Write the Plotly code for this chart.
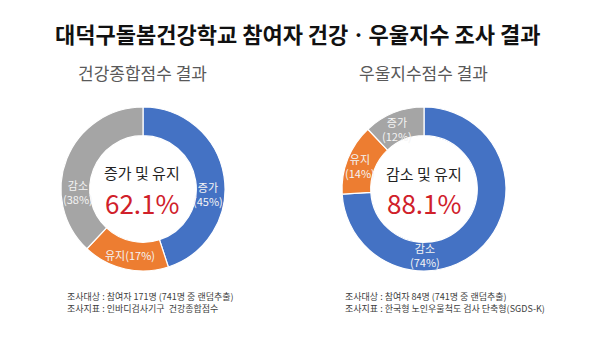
import plotly.graph_objects as go

# Survey results: health composite score (left) and depression score (right)
health_labels = ["증가", "유지", "감소"]
health_values = [45, 17, 38]
health_center_label = "증가 및 유지"
health_center_value = "62.1%"

depress_labels = ["감소", "유지", "증가"]
depress_values = [74, 14, 12]
depress_center_label = "감소 및 유지"
depress_center_value = "88.1%"

title = "대덕구돌봄건강학교 참여자 건강ㆍ우울지수 조사 결과"
sub_left = "건강종합점수 결과"
sub_right = "우울지수점수 결과"
note_left = ["조사대상 : 참여자 171명 (741명 중 랜덤추출)",
             "조사지표 : 인바디검사기구  건강종합점수"]
note_right = ["조사대상 : 참여자 84명 (741명 중 랜덤추출)",
              "조사지표 : 한국형 노인우울척도 검사 단축형(SGDS-K)"]

W, H = 607, 339
FONT = "Noto Sans CJK KR"
BLUE, ORANGE, GRAY = "#4472C4", "#ED7D31", "#A5A5A5"

# where each slice label sits (pixel centre), in slice order
health_label_pos = [(208, 194), (130, 255), (78, 192)]
health_label_wrap = [True, False, True]
depress_label_pos = [(425, 255), (360, 166), (397, 129)]
depress_label_wrap = [True, True, True]


def px_dom(cx, cy, r):
    return dict(x=[(cx - r) / W, (cx + r) / W], y=[(H - cy - r) / H, (H - cy + r) / H])


def donut(labels, values, dom):
    return go.Pie(
        labels=labels, values=values, textinfo="none",
        sort=False, direction="clockwise", rotation=0, hole=0.65,
        marker=dict(colors=[BLUE, ORANGE, GRAY], line=dict(color="white", width=1.2)),
        domain=dom, showlegend=False, hoverinfo="label+percent",
    )


fig = go.Figure()
fig.add_trace(donut(health_labels, health_values, px_dom(143, 189, 82)))
fig.add_trace(donut(depress_labels, depress_values, px_dom(424, 189, 82)))

ann = []


def txt(x, y, s, size, color, anchor="center", bold=False):
    ann.append(dict(x=x / W, y=1 - y / H, xref="paper", yref="paper", text=s,
                    showarrow=False, xanchor=anchor, yanchor="middle",
                    font=dict(family=FONT, size=size, color=color,
                              weight="bold" if bold else "normal")))


def slice_labels(labels, values, positions, wraps):
    for lab, val, (x, y), wrap in zip(labels, values, positions, wraps):
        sep = "<br>" if wrap else ""
        txt(x, y, f"{lab}{sep}({val}%)", 11, "#F4F4F4")


slice_labels(health_labels, health_values, health_label_pos, health_label_wrap)
slice_labels(depress_labels, depress_values, depress_label_pos, depress_label_wrap)

txt(298, 33, title, 22, "#111111", bold=True)
txt(142, 72, sub_left, 17, "#595959")
txt(423, 72, sub_right, 17, "#595959")
txt(142, 172, health_center_label, 15, "#222222")
txt(142, 202, health_center_value, 26, "#D0202A")
txt(424, 173, depress_center_label, 15, "#222222")
txt(424, 202, depress_center_value, 26, "#D0202A")
txt(65, 296, note_left[0], 9, "#404040", anchor="left")
txt(65, 308, note_left[1], 9, "#404040", anchor="left")
txt(343, 296, note_right[0], 9, "#404040", anchor="left")
txt(343, 308, note_right[1], 9, "#404040", anchor="left")

fig.update_layout(
    width=W, height=H, margin=dict(l=0, r=0, t=0, b=0),
    paper_bgcolor="white", plot_bgcolor="white",
    annotations=ann,
)
fig.write_html("out.html")
